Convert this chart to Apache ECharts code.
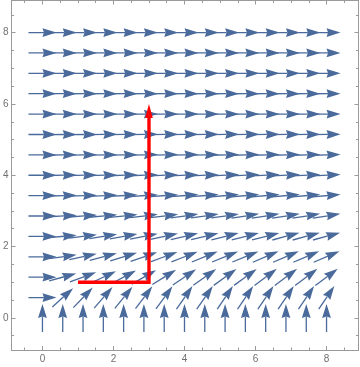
<!DOCTYPE html>
<html>
<head>
<meta charset="utf-8">
<script src="https://cdn.jsdelivr.net/npm/echarts@6/dist/echarts.min.js"></script>
<style>
html,body{margin:0;padding:0;background:#fff;}
#chart{width:360px;height:367px;}
</style>
</head>
<body>
<div id="chart"></div>
<script>
// Sample points of the vector field
const gridX = [0, 0.571, 1.143, 1.714, 2.286, 2.857, 3.429, 4, 4.571, 5.143, 5.714, 6.286, 6.857, 7.429, 8];
const gridY = [0, 0.571, 1.143, 1.714, 2.286, 2.857, 3.429, 4, 4.571, 5.143, 5.714, 6.286, 6.857, 7.429, 8];
// Arrow directions (degrees from +x axis), one row per gridY value
const angY0  = [90, 90, 90, 90, 90, 90, 90, 90, 90, 90, 90, 90, 90, 90, 90];
const angY1  = [0, 42, 46, 49, 51, 53, 54, 55, 55, 56, 56, 56, 56, 56, 56];
const angY2  = [0, 15, 20, 25, 28, 30, 32, 34, 35, 36, 36, 37, 37, 37, 37];
const angY3  = [0, 8, 12, 15, 17, 19, 20, 21, 22, 22, 22, 23, 23, 23, 23];
const angY4  = [0, 5, 7, 9, 10, 11, 12, 13, 13, 14, 14, 14, 15, 15, 15];
const angY5  = [0, 3, 4, 5, 6, 7, 7, 8, 8, 8, 9, 9, 9, 9, 9];
const angY6  = [0, 1.5, 2, 3, 3.5, 4, 4, 4.5, 4.5, 5, 5, 5, 5, 5, 5];
const angY7  = [0, 1, 1.2, 1.5, 2, 2, 2.3, 2.5, 2.5, 2.7, 2.8, 2.8, 2.8, 2.8, 2.8];
const angY8  = [0, 0.5, 0.7, 0.8, 1, 1.1, 1.2, 1.3, 1.3, 1.4, 1.4, 1.5, 1.5, 1.5, 1.5];
const angY9  = [0, 0.3, 0.4, 0.5, 0.5, 0.6, 0.6, 0.7, 0.7, 0.7, 0.8, 0.8, 0.8, 0.8, 0.8];
const angY10 = [0, 0.1, 0.2, 0.2, 0.3, 0.3, 0.3, 0.4, 0.4, 0.4, 0.4, 0.4, 0.4, 0.4, 0.4];
const angY11 = [0, 0, 0.1, 0.1, 0.1, 0.1, 0.2, 0.2, 0.2, 0.2, 0.2, 0.2, 0.2, 0.2, 0.2];
const angY12 = [0, 0, 0, 0, 0.1, 0.1, 0.1, 0.1, 0.1, 0.1, 0.1, 0.1, 0.1, 0.1, 0.1];
const angY13 = [0, 0, 0, 0, 0, 0, 0, 0, 0, 0, 0, 0, 0, 0, 0];
const angY14 = [0, 0, 0, 0, 0, 0, 0, 0, 0, 0, 0, 0, 0, 0, 0];
// Red path
const pathX = [1, 3, 3];
const pathY = [1, 1, 6];
// Ticks
const majorTicks = [0, 2, 4, 6, 8];
const minorTicks = [-0.5, 0, 0.5, 1, 1.5, 2, 2.5, 3, 3.5, 4, 4.5, 5, 5.5, 6, 6.5, 7, 7.5, 8, 8.5];

const angleRows = [angY0, angY1, angY2, angY3, angY4, angY5, angY6, angY7, angY8, angY9, angY10, angY11, angY12, angY13, angY14];
const arrowData = [];
for (let j = 0; j < gridY.length; j++) {
  for (let i = 0; i < gridX.length; i++) {
    arrowData.push([gridX[i], gridY[j], angleRows[j][i]]);
  }
}

const ARROW = '#4a6a9b';
const FRAME = '#9a9a9a';
const LABEL = '#707070';

function renderArrow(params, api) {
  const a = api.value(2) * Math.PI / 180;
  const c = api.coord([api.value(0), api.value(1)]);
  const dx = Math.cos(a), dy = -Math.sin(a);
  const L = 28, hl = 14, hw = 4.4, notch = 1.5;
  const tail = [c[0] - dx * L / 2, c[1] - dy * L / 2];
  const tip = [c[0] + dx * L / 2, c[1] + dy * L / 2];
  const base = [tip[0] - dx * hl, tip[1] - dy * hl];
  const nx = -dy, ny = dx;
  const nb = [base[0] + dx * notch, base[1] + dy * notch];
  return {
    type: 'group',
    children: [
      { type: 'line', shape: { x1: tail[0], y1: tail[1], x2: nb[0], y2: nb[1] },
        style: { stroke: ARROW, lineWidth: 1.3 } },
      { type: 'polygon', shape: { points: [tip, [base[0] + nx * hw, base[1] + ny * hw], nb, [base[0] - nx * hw, base[1] - ny * hw]] },
        style: { fill: ARROW } }
    ]
  };
}

function renderPath(params, api) {
  if (params.dataIndex !== 0) return null;
  const pts = pathX.map((x, k) => api.coord([x, pathY[k]]));
  const n = pts.length;
  const tip = pts[n - 1], prev = pts[n - 2];
  let dx = tip[0] - prev[0], dy = tip[1] - prev[1];
  const len = Math.hypot(dx, dy); dx /= len; dy /= len;
  const hl = 14, hw = 3.8;
  const base = [tip[0] - dx * hl, tip[1] - dy * hl];
  const linePts = pts.slice(0, n - 1).concat([[base[0] + dx * 2, base[1] + dy * 2]]);
  const nx = -dy, ny = dx;
  return {
    type: 'group',
    children: [
      { type: 'polyline', shape: { points: linePts },
        style: { stroke: '#ff0000', lineWidth: 3.4, fill: null, lineJoin: 'miter' } },
      { type: 'polygon', shape: { points: [tip, [base[0] + nx * hw, base[1] + ny * hw], [base[0] - nx * hw, base[1] - ny * hw]] },
        style: { fill: '#ff0000' } }
    ]
  };
}

function frameAxis(kind, pos, ticks, len, labels, range) {
  return {
    type: 'value', position: pos, min: range[0], max: range[1],
    axisLine: { show: true, onZero: false, lineStyle: { color: FRAME, width: 1 } },
    axisTick: { show: true, inside: true, length: len, customValues: ticks, lineStyle: { color: FRAME, width: 1 } },
    axisLabel: { show: labels, customValues: majorTicks, color: LABEL, fontSize: 10,
                 fontFamily: 'Liberation Sans, Arial, sans-serif', margin: kind === 'x' ? 4 : 3 },
    splitLine: { show: false }
  };
}

const xr = [-0.87, 8.9], yr = [-0.9, 8.9];
const chart = echarts.init(document.getElementById('chart'), null, { renderer: 'canvas' });
chart.setOption({
  animation: false,
  backgroundColor: '#ffffff',
  grid: { left: 9, right: 1.5, top: 0.5, bottom: 17, containLabel: false },
  xAxis: [
    frameAxis('x', 'bottom', majorTicks, 4, true, xr),
    frameAxis('x', 'bottom', minorTicks, 2.5, false, xr),
    frameAxis('x', 'top', majorTicks, 4, false, xr),
    frameAxis('x', 'top', minorTicks, 2.5, false, xr)
  ],
  yAxis: [
    frameAxis('y', 'left', majorTicks, 4, true, yr),
    frameAxis('y', 'left', minorTicks, 2.5, false, yr),
    frameAxis('y', 'right', majorTicks, 4, false, yr),
    frameAxis('y', 'right', minorTicks, 2.5, false, yr)
  ],
  series: [
    { type: 'custom', xAxisIndex: 0, yAxisIndex: 0, renderItem: renderArrow, data: arrowData,
      encode: { x: 0, y: 1 }, clip: true, z: 2 },
    { type: 'custom', xAxisIndex: 0, yAxisIndex: 0, renderItem: renderPath,
      data: pathX.map((x, k) => [x, pathY[k]]), encode: { x: 0, y: 1 }, z: 3 }
  ]
});
</script>
</body>
</html>
